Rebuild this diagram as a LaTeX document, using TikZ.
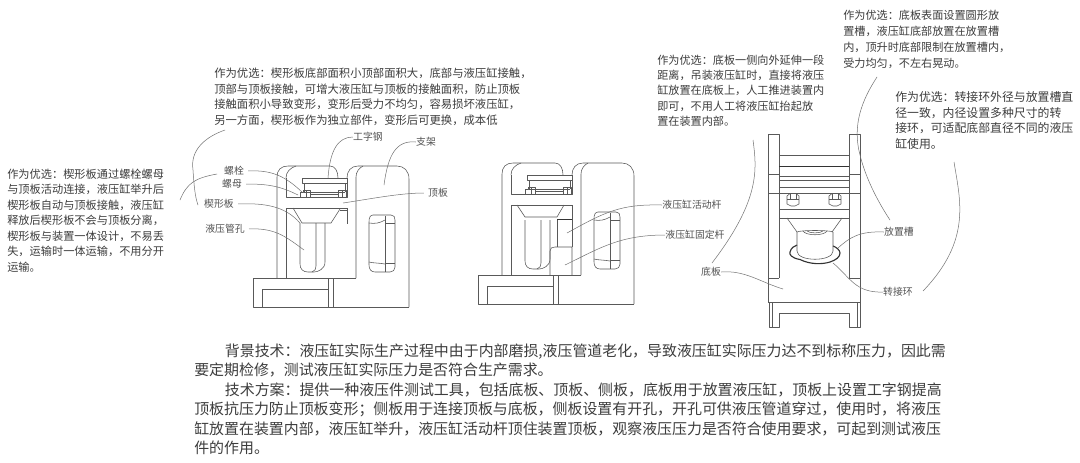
\documentclass[tikz,border=0pt]{standalone}
\usepackage{fontspec}
\setmainfont{Noto Sans CJK SC}
\tikzset{
 part/.style={draw=black!65,line width=0.42pt,fill=none,line join=round},
 heavy/.style={draw=black!80,line width=0.75pt},
 lead/.style={draw=black!55,line width=0.38pt},
 gap/.style={shorten <=3pt},
 lbl/.style={inner sep=0pt,font=\fontsize{7.4pt}{8.6pt}\selectfont,text=black!68},
 para/.style={inner sep=0pt,anchor=north west,align=left,text=black!76},
 body/.style={inner sep=0pt,anchor=north west,align=left,text=black!76,font=\fontsize{11.2pt}{14.55pt}\selectfont}
}
\newcommand{\sidebody}{%
 % outer arches
 \draw[part] (277,278) -- (277,177) .. controls (277,170) and (281,166) .. (288,166) -- (330,166) .. controls (335,166) and (338,171) .. (338,178);
 \draw[part] (286,178) .. controls (286,172) and (290,168) .. (296,166);
 \draw[part] (347,178) .. controls (347,171) and (351,166) .. (358,166) -- (397,166) .. controls (404,166) and (409,171) .. (409,179) -- (409,307);
 \draw[part] (356,278) -- (356,177) .. controls (356,172) and (359,168) .. (363,166);
 \draw[part] (286,178) -- (286,197) -- (347,197) -- (347,178);
 \draw[part] (286,278) -- (286,208) -- (347,208);
 \draw[part] (347,208) -- (347,224);
 % base
 \draw[part] (356,278) -- (253,278) -- (253,307) -- (409,307);
 \draw[part] (262,307) -- (262,289) -- (328,289);
 \draw[part] (328,278) -- (328,307);
 \draw[part] (333,278) -- (333,307);
 % slot
 \draw[part] (373,215) -- (391,215) .. controls (394,215) and (395,217) .. (395,220) -- (395,267) .. controls (395,270) and (393,272) .. (390,272) -- (375,272) .. controls (371,272) and (369,269) .. (369,265) -- (369,222) .. controls (369,218) and (370,215) .. (373,215);
 \draw[part] (385,216) -- (385,272);
 \draw[part] (369,223) .. controls (375,224) and (380,223) .. (385,220);
 \draw[part] (385,264) .. controls (380,263) and (372,263) .. (369,262);
 \draw[part] (385,223) -- (395,223);
 \draw[part] (385,263) -- (395,263);
 % left tube
 \draw[part] (300,223) -- (300,264) .. controls (300,269) and (303,272) .. (308,272) -- (314,272) .. controls (318,272) and (325,269) .. (325,262) -- (325,223);
 \draw[part] (316,223) -- (316,266) .. controls (316,269) and (315,271) .. (312,272);
 % I-beam and nuts
 \draw[part] (302,178) -- (347,178) -- (347,183) -- (302,183) -- cycle;
 \draw[part] (304,183) -- (304,192);
 \draw[part] (345,183) -- (345,192);
 \draw[part] (304,192) -- (345,192);
 \draw[part] (310,194) -- (338,194);
 \draw[part] (300,197) -- (300,192) -- (303,192) -- (303,190) -- (310,190) -- (310,197);
 \draw[part] (306,190) -- (306,197);
 \draw[part] (338,197) -- (338,190) -- (346,190) -- (346,197);
 \draw[part] (342,190) -- (342,197);
}
\begin{document}
\begin{tikzpicture}[x=0.75pt,y=-0.75pt]
\useasboundingbox (0,0) rectangle (1080,462);
\fill[white] (0,0) rectangle (1080,462);
% --- paragraphs
\node[para,font=\fontsize{8.5pt}{11.7pt}\selectfont] (t1) at (214,67.5) {作为优选：楔形板底部面积小顶部面积大，底部与液压缸接触，\\顶部与顶板接触，可增大液压缸与顶板的接触面积，防止顶板\\接触面积小导致变形，变形后受力不均匀，容易损坏液压缸，\\另一方面，楔形板作为独立部件，变形后可更换，成本低};
\node[para,font=\fontsize{8.4pt}{11.65pt}\selectfont] (t2) at (7,168.4) {作为优选：楔形板通过螺栓螺母\\与顶板活动连接，液压缸举升后\\楔形板自动与顶板接触，液压缸\\释放后楔形板不会与顶板分离，\\楔形板与装置一体设计，不易丢\\失，运输时一体运输，不用分开\\运输。};
\node[para,font=\fontsize{8.35pt}{11.5pt}\selectfont] (t3) at (657,54.5) {作为优选：底板一侧向外延伸一段\\距离，吊装液压缸时，直接将液压\\缸放置在底板上，人工推进装置内\\即可，不用人工将液压缸抬起放\\置在装置内部。};
\node[para,font=\fontsize{8.35pt}{12pt}\selectfont] (t4) at (843,9.5) {作为优选：底板表面设置圆形放\\置槽，液压缸底部放置在放置槽\\内，顶升时底部限制在放置槽内，\\受力均匀，不左右晃动。};
\node[para,font=\fontsize{8.9pt}{11.8pt}\selectfont] (t5) at (895,91) {作为优选：转接环外径与放置槽直\\径一致，内径设置多种尺寸的转\\接环，可适配底部直径不同的液压\\缸使用。};
\node[body] (b) at (194,343.5) {\hspace*{2.05em}背景技术：液压缸实际生产过程中由于内部磨损,液压管道老化，导致液压缸实际压力达不到标称压力，因此需\\要定期检修，测试液压缸实际压力是否符合生产需求。\\\hspace*{2.05em}技术方案：提供一种液压件测试工具，包括底板、顶板、侧板，底板用于放置液压缸，顶板上设置工字钢提高\\顶板抗压力防止顶板变形；侧板用于连接顶板与底板，侧板设置有开孔，开孔可供液压管道穿过，使用时，将液压\\缸放置在装置内部，液压缸举升，液压缸活动杆顶住装置顶板，观察液压压力是否符合使用要求，可起到测试液压\\件的作用。};
% --- figure 1
\sidebody
\draw[part] (293,208) -- (302,223) -- (331,223) -- (340,209);
\draw[part] (340,210) -- (347,210);
% --- figure 2
\begin{scope}[shift={(225,-3)}]
\sidebody
\draw[part] (292,208) -- (300,220) -- (332,220) -- (339,208);
\draw[part] (332,223) -- (332,250);
\draw[part] (347,222) -- (347,250);
\draw[heavy] (332,222) -- (347,222);
\draw[part] (325,278) -- (325,254) .. controls (325,251) and (327,250) .. (330,250) -- (347,250) -- (347,278);
\end{scope}
% --- figure 3
\draw[part] (768,302) -- (768,134) -- (779,134) -- (779,278);
\draw[part] (860,302) -- (860,134) -- (849,134) -- (849,278);
\draw[part] (768,174) -- (779,174);
\draw[part] (849,174) -- (860,174);
\draw[part] (768,193) -- (860,193);
\draw[part] (779,155) -- (849,155);
\draw[heavy] (779,166) -- (849,166);
\draw[part] (779,176) -- (849,176);
\draw[part] (779,180) -- (849,180);
\draw[part,line width=0.6pt] (779,187) -- (849,187);
\draw[part] (779,209) -- (849,209);
\draw[part] (779,218) -- (849,218);
\draw[part] (768,278) -- (779,278);
\draw[part] (849,278) -- (860,278);
\draw[part] (768,302) -- (860,302);
\draw[part] (769,302) -- (769,327) -- (779,327) -- (779,313) -- (849,313) -- (849,327) -- (860,327) -- (860,302);
\draw[part] (772,302) -- (772,327);
\draw[part] (857,302) -- (857,327);
% nuts
\draw[part] (787,196) -- (790,193.5) -- (796,193.5) -- (799,196) -- (799,204) -- (795,206) -- (791,206) -- (787,204) -- cycle;
\draw[part] (787,199) -- (799,199);
\draw[part] (790,193.5) -- (790,199);
\draw[part] (796,193.5) -- (796,199);
\draw[part] (829,196) -- (832,193.5) -- (838,193.5) -- (841,196) -- (841,204) -- (837,206) -- (833,206) -- (829,204) -- cycle;
\draw[part] (829,199) -- (841,199);
\draw[part] (832,193.5) -- (832,199);
\draw[part] (838,193.5) -- (838,199);
% wedge, cylinder, ring
\draw[part] (787,218) -- (797,232);
\draw[part] (842,218) -- (832,232);
\draw[heavy,line width=0.85pt] (800,259.5) .. controls (791,258) and (789,254) .. (790,252) .. controls (791,248) and (794,246) .. (797,245);
\draw[heavy,line width=0.85pt] (800,259.5) .. controls (810,264.5) and (822,264.5) .. (830,262) .. controls (836,260) and (840,257) .. (840,253) .. controls (840,250) and (836,247) .. (833,246);
\draw[part] (797,232) .. controls (800,230) and (830,230) .. (833,232);
\draw[part] (797,232) -- (797,251) .. controls (797,262) and (833,262) .. (833,251) -- (833,232);
\draw[part] (803,231) .. controls (806,236) and (824,236) .. (827,231);
\draw[part] (807,231) .. controls (810,233.5) and (820,233.5) .. (823,231);
% --- labels
\node[lbl] (gzg) at (368,137) {工字钢};
\node[lbl] (zj) at (426,142) {支架};
\node[lbl] (db) at (438,193) {顶板};
\node[lbl] (ls) at (234,171) {螺栓};
\node[lbl] (lm) at (232,184) {螺母};
\node[lbl] (xx) at (219,204) {楔形板};
\node[lbl] (ggk) at (225,229) {液压管孔};
\node[lbl] (hdg) at (692,205) {液压缸活动杆};
\node[lbl] (gdg) at (695,235) {液压缸固定杆};
\node[lbl] (dib) at (711,272) {底板};
\node[lbl] (fzc) at (899,232) {放置槽};
\node[lbl] (zjh) at (898,292) {转接环};
% --- free ends
\coordinate (e1) at (328,178);
\coordinate (e2) at (384,185);
\coordinate (e3) at (343,203);
\coordinate (e4) at (302,192);
\coordinate (e5) at (298,195);
\coordinate (e6) at (300,223);
\coordinate (e7) at (304,250);
\coordinate (e8) at (567,233);
\coordinate (e9) at (565,265);
\coordinate (e10) at (783,289);
\coordinate (e11) at (838,248);
\coordinate (e12) at (833,263);
\coordinate (s1) at (225,130);
\coordinate (s2) at (180,200);
\coordinate (s3) at (753,140);
\coordinate (s4) at (877,77);
\coordinate (s5) at (954,162);
\coordinate (s6) at (923,291);
\coordinate (e13) at (890,220);
\coordinate (e14) at (712,263);
\coordinate (e15) at (198,205);
\coordinate (e16) at (217,174);
% --- leaders
\draw[lead] (gzg.west) .. controls (338,137) and (330,150) .. (e1);
\draw[lead] (zj.west) .. controls (396,140) and (388,155) .. (e2);
\draw[lead,gap] (db.west) .. controls (400,193) and (370,199) .. (e3);
\draw[lead,gap] (ls.east) .. controls (272,170) and (285,176) .. (e4);
\draw[lead,gap] (lm.east) .. controls (268,184) and (280,186) .. (e5);
\draw[lead,gap] (xx.east) .. controls (265,203) and (285,206) .. (e6);
\draw[lead,gap] (ggk.east) .. controls (275,228) and (285,236) .. (e7);
\draw[lead] (hdg.west) .. controls (620,204) and (605,212) .. (e8);
\draw[lead] (gdg.west) .. controls (620,235) and (600,248) .. (e9);
\draw[lead] (dib.east) .. controls (745,270) and (760,282) .. (e10);
\draw[lead] (fzc.west) .. controls (860,231) and (850,237) .. (e11);
\draw[lead] (zjh.west) .. controls (855,293) and (850,277) .. (e12);
\draw[lead] (s1) .. controls (205,137) and (190,150) .. (193,170) .. controls (194,185) and (195,197) .. (e15);
\draw[lead] (s2) .. controls (187,183) and (195,178) .. (e16);
\draw[lead] (s3) .. controls (757,170) and (760,200) .. (e14);
\draw[lead] (s4) .. controls (862,100) and (852,125) .. (860,155) .. controls (866,180) and (880,205) .. (e13);
\draw[lead] (s5) .. controls (960,200) and (972,240) .. (s6);
\end{tikzpicture}
\end{document}
